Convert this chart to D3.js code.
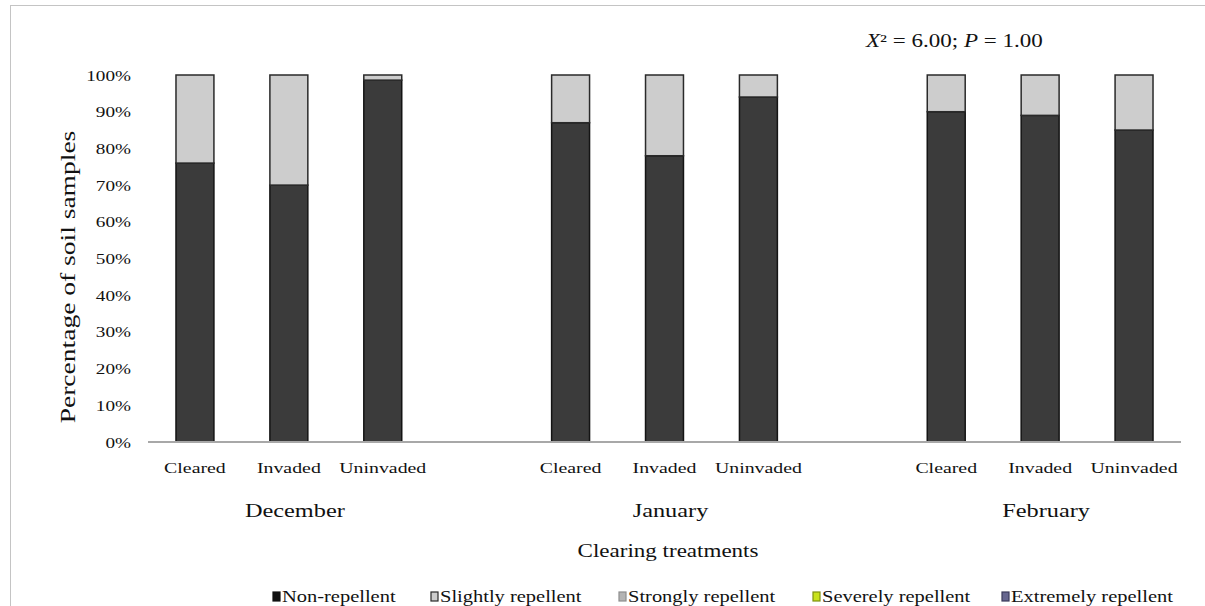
<!DOCTYPE html>
<html>
<head>
<meta charset="utf-8">
<script src="https://cdn.jsdelivr.net/npm/d3@7"></script>
<style>
  html, body { margin: 0; padding: 0; background: #fff; }
  svg { display: block; }
  text { font-family: "Liberation Serif", "Times New Roman", serif; fill: #111; }
</style>
</head>
<body>
<svg id="chart" width="1205" height="606"></svg>
<script>
// Sampling months and the treatments sampled in each
const months = ["December", "January", "February"];
const treatments = ["Cleared", "Invaded", "Uninvaded"];

// Repellency classes (legend order)
const classes = ["Non-repellent", "Slightly repellent", "Strongly repellent", "Severely repellent", "Extremely repellent"];

// Percentage of soil samples in each class, one entry per month × treatment
const nonRepellent      = [76, 70, 98.6, 87, 78, 94, 90, 89, 85];
const slightlyRepellent = [24, 30, 1.4, 13, 22, 6, 10, 11, 15];
const stronglyRepellent = [0, 0, 0, 0, 0, 0, 0, 0, 0];
const severelyRepellent = [0, 0, 0, 0, 0, 0, 0, 0, 0];
const extremelyRepellent = [0, 0, 0, 0, 0, 0, 0, 0, 0];

const yTicks = [0, 10, 20, 30, 40, 50, 60, 70, 80, 90, 100];
const statLabel = { chi: "6.00", p: "1.00" };

const classFill   = ["#3b3b3b", "#cdcdcd", "#b4b4b4", "#c8e21c", "#66668f"];
const classStroke = ["#141414", "#2a2a2a", "#8e8e8e", "#7f9210", "#3a3a5a"];

const svg = d3.select("#chart");
const STRETCH = 1.28; // glyphs are drawn a little wider along the reading direction

function label(g, x, y, str, size, anchor, rotate) {
  const t = g.append("text")
    .attr("transform", `translate(${x},${y})` + (rotate ? ` rotate(${rotate})` : "") + ` scale(${STRETCH},1)`)
    .attr("text-anchor", anchor || "middle")
    .style("font-size", size + "px");
  if (typeof str === "string") t.text(str);
  return t;
}

// Outer frame
svg.append("rect")
  .attr("x", 10.5).attr("y", 5.5).attr("width", 1210).attr("height", 620)
  .attr("fill", "none").attr("stroke", "#c4c4c4").attr("stroke-width", 1);

// Rows: one per bar, with blank slots separating the months
const rows = [];
months.forEach((m, mi) => {
  treatments.forEach((t, ti) => {
    const i = mi * treatments.length + ti;
    rows.push({
      key: m + "|" + t, month: m, treatment: t,
      "Non-repellent": nonRepellent[i],
      "Slightly repellent": slightlyRepellent[i],
      "Strongly repellent": stronglyRepellent[i],
      "Severely repellent": severelyRepellent[i],
      "Extremely repellent": extremelyRepellent[i]
    });
  });
});
const slots = [];
months.forEach((m, mi) => {
  treatments.forEach(t => slots.push(m + "|" + t));
  if (mi < months.length - 1) slots.push("gap" + mi);
});

const x = d3.scaleBand().domain(slots).range([148, 1181]).paddingInner(0.58).paddingOuter(0.29);
const y = d3.scaleLinear().domain([0, 100]).range([442, 75]);

const stack = d3.stack().keys(classes);
const series = stack(rows);

// Stacked bars
const barG = svg.append("g");
series.forEach((s, ci) => {
  barG.selectAll(null).data(s.filter(d => d[1] - d[0] > 0)).enter().append("rect")
    .attr("x", d => x(d.data.key) + 0.75)
    .attr("width", x.bandwidth() - 1.5)
    .attr("y", d => y(d[1]))
    .attr("height", d => y(d[0]) - y(d[1]))
    .attr("fill", classFill[ci])
    .attr("stroke", classStroke[ci])
    .attr("stroke-width", 1.5);
});

// Baseline
svg.append("line")
  .attr("x1", x.range()[0]).attr("x2", x.range()[1])
  .attr("y1", y(0)).attr("y2", y(0))
  .attr("stroke", "#a8a8a8").attr("stroke-width", 2);

// Y axis tick labels (no axis line)
const yAxis = d3.axisLeft(y).tickValues(yTicks).tickSize(0).tickPadding(0).tickFormat(d => d + "%");
const yG = svg.append("g").attr("transform", "translate(131,0)").call(yAxis);
yG.select(".domain").remove();
yG.selectAll(".tick text").each(function() {
  d3.select(this).attr("x", null).attr("dy", null)
    .attr("transform", `translate(0,5) scale(${STRETCH},1)`)
    .attr("text-anchor", "end")
    .style("font-size", "15px").style("font-family", "'Liberation Serif', serif").attr("fill", "#111");
});

// Category labels
const catG = svg.append("g");
rows.forEach(r => label(catG, x(r.key) + x.bandwidth() / 2, 473, r.treatment, 15.5));

// Month labels
months.forEach(m => {
  const c = x(m + "|" + treatments[1]) + x.bandwidth() / 2 + 6;
  label(svg, c, 517, m, 19);
});

// Axis titles
label(svg, 668, 557, "Clearing treatments", 18);
label(svg, 75, 277, "Percentage of soil samples", 21.5, "middle", -90);

// Chi-square annotation
const st = label(svg, 866, 47, null, 18, "start");
st.append("tspan").style("font-style", "italic").text("X");
st.append("tspan").text("² = " + statLabel.chi + "; ");
st.append("tspan").style("font-style", "italic").text("P");
st.append("tspan").text(" = " + statLabel.p);

// Legend
const legendX = [273, 431, 619, 813, 1002];
const legG = svg.append("g");
classes.forEach((c, i) => {
  legG.append("rect")
    .attr("x", legendX[i]).attr("y", 592).attr("width", 7).attr("height", 9)
    .attr("fill", i === 0 ? "#111" : classFill[i])
    .attr("stroke", i === 0 ? "#111" : classStroke[i]).attr("stroke-width", 1.2);
  label(legG, legendX[i] + 9, 602, c, 16, "start");
});
</script>
</body>
</html>
